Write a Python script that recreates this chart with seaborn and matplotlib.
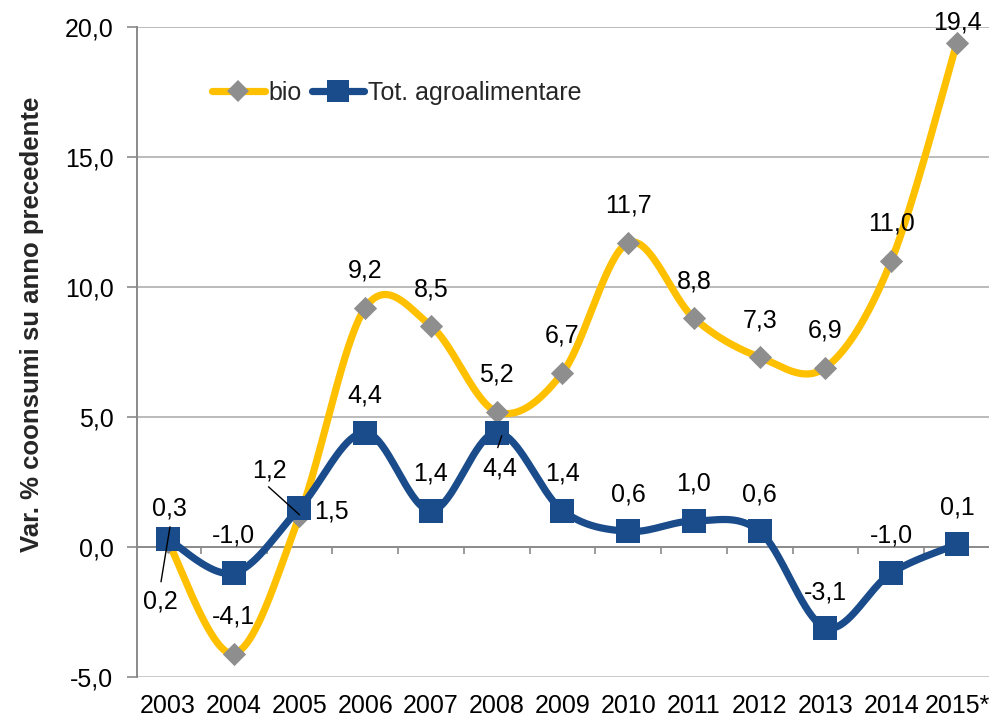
import numpy as np
import pandas as pd
import matplotlib
matplotlib.use("Agg")
import matplotlib.pyplot as plt
import matplotlib.transforms as mtransforms
from matplotlib.lines import Line2D
import seaborn as sns

# ---- data ----
years = ["2003", "2004", "2005", "2006", "2007", "2008", "2009",
         "2010", "2011", "2012", "2013", "2014", "2015*"]
bio = [0.2, -4.1, 1.2, 9.2, 8.5, 5.2, 6.7, 11.7, 8.8, 7.3, 6.9, 11.0, 19.4]
tot = [0.3, -1.0, 1.5, 4.4, 1.4, 4.4, 1.4, 0.6, 1.0, 0.6, -3.1, -1.0, 0.1]
ytick_vals = [-5, 0, 5, 10, 15, 20]
series_names = ["bio", "Tot. agroalimentare"]

sns.set_theme(style="white")
plt.rcParams["font.family"] = ["Liberation Sans", "DejaVu Sans"]

GOLD = "#FFC000"
BLUE = "#1A4C8B"
GRAY_MK = "#8E8E8E"
FS = 18

fig = plt.figure(figsize=(9.89, 7.2), dpi=100)
fig.patch.set_facecolor("white")
ax = fig.add_axes([137 / 989, 43 / 720, 852 / 989, 650 / 720])
ax.set_facecolor("none")


def smooth(vals, n=40):
    """Excel-style smoothed line (Bezier with 1/6 tangent rule)."""
    p = np.column_stack([np.arange(len(vals)), vals]).astype(float)
    out = []
    for i in range(len(p) - 1):
        p0 = p[i - 1] if i > 0 else p[i]
        p3 = p[i + 2] if i + 2 < len(p) else p[i + 1]
        c1 = p[i] + (p[i + 1] - p0) / 6
        c2 = p[i + 1] - (p3 - p[i]) / 6
        t = np.linspace(0, 1, n)[:, None]
        seg = ((1 - t) ** 3) * p[i] + 3 * ((1 - t) ** 2) * t * c1 \
            + 3 * (1 - t) * t ** 2 * c2 + t ** 3 * p[i + 1]
        out.append(seg if i == 0 else seg[1:])
    return np.vstack(out)


x_idx = np.arange(len(years))

# grid & axes
for v in ytick_vals:
    if v == 0:
        continue
    if v == -5:
        ax.axhline(v, color="#C4C4C4", lw=2.0, zorder=1)
    else:
        ax.axhline(v, color="#A8A8A8", lw=1.1, zorder=1)
ax.axhline(0, color="#8A8A8A", lw=1.4, zorder=1)
ax.vlines(np.arange(len(years) - 1) + 0.5, -0.28, 0, color="#8A8A8A", lw=1.2, zorder=1)

# bio series
sb = smooth(bio)
df_b = pd.DataFrame({"x": sb[:, 0], "y": sb[:, 1]})
sns.lineplot(data=df_b, x="x", y="y", sort=False, color=GOLD, lw=5.2, ax=ax, zorder=3)
sns.scatterplot(x=x_idx, y=bio, marker="D", s=140, color=GRAY_MK, linewidth=0, ax=ax, zorder=4)

# tot series
st = smooth(tot)
df_t = pd.DataFrame({"x": st[:, 0], "y": st[:, 1]})
sns.lineplot(data=df_t, x="x", y="y", sort=False, color=BLUE, lw=5.2, ax=ax, zorder=5)
sns.scatterplot(x=x_idx, y=tot, marker="s", s=285, color=BLUE, linewidth=0, ax=ax, zorder=6)

ax.set_xlim(-0.4715, 12.487)
ax.set_ylim(-5, 20)
ax.set_xticks(x_idx)
ax.set_xticklabels(years, fontsize=FS, color="black")
ax.set_yticks(ytick_vals)
ax.set_yticklabels([f"{v:.1f}".replace(".", ",") for v in ytick_vals], fontsize=FS, color="black")
ax.tick_params(axis="x", length=0, pad=12)
ax.tick_params(axis="y", length=7, width=1.2, color="#8A8A8A", pad=10, direction="out", left=True)
ax.set_xlabel("")
ax.set_ylabel("")
for s in ["top", "right", "bottom"]:
    ax.spines[s].set_visible(False)
ax.spines["left"].set_color("#8A8A8A")
ax.spines["left"].set_linewidth(1.4)

# data labels (offsets in pixels)
def fmt(v):
    return f"{v:.1f}".replace(".", ",")

bio_off = {0: (-8, -60), 1: (0, 37), 2: (-30, 45), 12: (0, 20)}
tot_off = {0: (1, 31), 2: (32, -3), 5: (3, -36), 10: (0, 35)}
for i, v in enumerate(bio):
    dx, dy = bio_off.get(i, (0, 37))
    ax.annotate(fmt(v), (i, v), xytext=(dx, dy), textcoords="offset pixels",
                ha="center", va="center", fontsize=FS, color="black", zorder=8)
for i, v in enumerate(tot):
    dx, dy = tot_off.get(i, (0, 37))
    ax.annotate(fmt(v), (i, v), xytext=(dx, dy), textcoords="offset pixels",
                ha="center", va="center", fontsize=FS, color="black", zorder=8)


def leader(i, v, a, b):
    ta = mtransforms.offset_copy(ax.transData, fig=fig, x=a[0], y=a[1], units="dots")
    tb = mtransforms.offset_copy(ax.transData, fig=fig, x=b[0], y=b[1], units="dots")
    ax.annotate("", xy=(i, v), xycoords=tb, xytext=(i, v), textcoords=ta,
                arrowprops=dict(arrowstyle="-", color="black", lw=1.0,
                                shrinkA=0, shrinkB=0), zorder=9)

leader(0, bio[0], (-7, -40), (2, 15))
leader(2, bio[2], (-31, 29), (0, 1))
leader(5, tot[5], (1, -15), (5, -3))

# legend
handles = [
    Line2D([], [], color=GOLD, lw=5.2, marker="D", markersize=11.5,
           markerfacecolor=GRAY_MK, markeredgewidth=0, solid_capstyle="round"),
    Line2D([], [], color=BLUE, lw=5.2, marker="s", markersize=16,
           markerfacecolor=BLUE, markeredgewidth=0, solid_capstyle="round"),
]
fig.legend(handles, series_names, loc="center left",
           bbox_to_anchor=(212 / 989, 1 - 93 / 720), ncol=2, frameon=False,
           fontsize=FS, handlelength=2.1, handletextpad=0.15,
           columnspacing=0.4, borderpad=0, borderaxespad=0)

fig.text(32 / 989, 1 - 324 / 720, "Var. % coonsumi su anno precedente",
         rotation=90, ha="center", va="center", fontsize=18.5, fontweight="bold")

fig.savefig("out.png", dpi=100, facecolor="white")
